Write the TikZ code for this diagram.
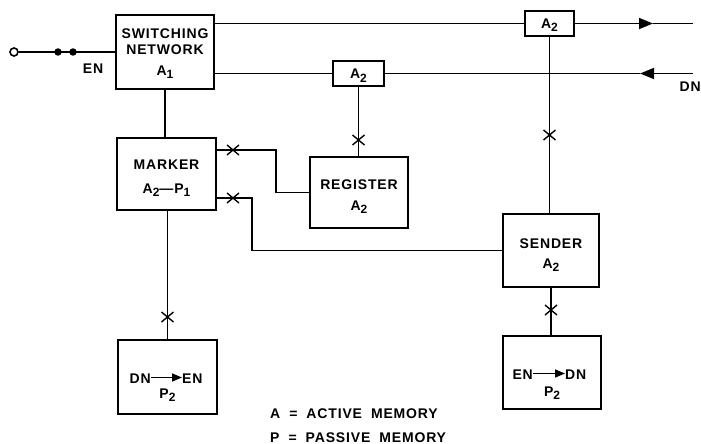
\documentclass[tikz,border=0pt]{standalone}
\usepackage{fontspec}
\setmainfont{Liberation Sans}[LetterSpace=6]
\usetikzlibrary{arrows.meta}
\newcommand\sbs[1]{\raisebox{-3.5pt}{\fontsize{12}{12}\selectfont #1}}
\tikzset{
  wire/.style={line width=1.8pt},
  box/.style={draw, line width=1.8pt, inner sep=0pt},
  lbl/.style={font=\bfseries\fontsize{14}{16}\selectfont, anchor=base, inner sep=0pt},
  xm/.pic={\draw[line width=1.4pt] (-6,-5)--(6,5) (-6,5)--(6,-5);},
  tipstyle/.style={wire, -{Triangle[length=14pt,width=11pt]}},
  intip/.style={line width=1.6pt, -{Triangle[length=10pt,width=8pt]}},
  dotn/.style={circle, fill, inner sep=0pt, minimum size=7.5pt},
}
\begin{document}
\begin{tikzpicture}[x=1pt,y=-1pt]
\useasboundingbox (0,0) rectangle (701,444);
% boxes
\node[box, minimum width=98pt, minimum height=74pt] (sw) at (165,52) {};
\node[box, minimum width=51pt, minimum height=25pt] (a2m) at (358.5,73.5) {};
\node[box, minimum width=49pt, minimum height=25pt] (a2t) at (549.5,23.5) {};
\node[box, minimum width=99pt, minimum height=72pt] (mk) at (166.5,174) {};
\node[box, minimum width=98pt, minimum height=71pt] (rg) at (359,192.5) {};
\node[box, minimum width=96pt, minimum height=73pt] (sd) at (551,250.5) {};
\node[box, minimum width=99pt, minimum height=74pt] (de) at (167.5,377) {};
\node[box, minimum width=98pt, minimum height=73pt] (ed) at (552,372.5) {};
% texts
\node[lbl] at (165,39) {SWITCHING};
\node[lbl] at (165,55) {NETWORK};
\node[lbl] at (165,75) {A\sbs{1}};
\node[lbl] at (358.5,78.5) {A\sbs{2}};
\node[lbl] at (549.5,28.5) {A\sbs{2}};
\node[lbl] at (166.5,169) {MARKER};
\node[lbl] at (166.5,193) {A\sbs{2}—P\sbs{1}};
\node[lbl] at (359,189) {REGISTER};
\node[lbl] at (359,210) {A\sbs{2}};
\node[lbl] at (551,248) {SENDER};
\node[lbl] at (551,268) {A\sbs{2}};
\node[lbl, anchor=base east] (de1) at (151,383) {DN};
\node[lbl, anchor=base west] (de2) at (182,383) {EN};
\node[lbl] at (167.5,398) {P\sbs{2}};
\node[lbl, anchor=base east] (ed1) at (533,379) {EN};
\node[lbl, anchor=base west] (ed2) at (565,379) {DN};
\node[lbl] at (552,396) {P\sbs{2}};
\node[lbl] at (93,74) {EN};
\node[lbl, anchor=base east] at (701,92) {DN};
\node[lbl, anchor=base west] at (270,418) {A\hspace{9pt}=\hspace{9pt}ACTIVE\hspace{9pt}MEMORY};
\node[lbl, anchor=base west] at (270,442) {P\hspace{9pt}=\hspace{9pt}PASSIVE\hspace{9pt}MEMORY};
% arrows inside boxes
\draw[intip] (de1.east |- 0,377.5) -- (de2.west |- 0,377.5);
\draw[intip] (ed1.east |- 0,373.5) -- (ed2.west |- 0,373.5);
% input
\node[circle, draw, line width=1.6pt, inner sep=0pt, minimum size=8pt] (in) at (14,52) {};
\draw[wire] (in.east) -- (sw.west);
\node[dotn] (d1) at (58,52) {};
\node[dotn] (d2) at (73,52) {};
% trunk lines
\coordinate (tipR) at (653,23.5);
\coordinate (outR) at (693,23.5);
\coordinate (tipL) at (640,73.5);
\coordinate (outL) at (693,73.5);
\draw[wire] (a2t.west -| sw.east) -- (a2t.west);
\draw[tipstyle] (a2t.east) -- (tipR);
\draw[wire] (tipR) -- (outR);
\draw[wire] (a2m.west -| sw.east) -- (a2m.west);
\draw[wire] (a2m.east) -- (tipL);
\draw[tipstyle] (outL) -- (tipL);
% verticals
\draw[wire] (sw.south) -- (sw.south |- mk.north);
\draw[wire] (a2m.south) -- (a2m.south |- rg.north);
\draw[wire] (a2t.south) -- (a2t.south |- sd.north);
\draw[wire] (mk.south -| de.north) -- (de.north);
\draw[wire] (sd.south) -- (sd.south |- ed.north);
% marker connections
\coordinate (c1) at (276,150);
\coordinate (c2) at (252,198);
\draw[wire] (c1 -| mk.east) -- (c1) |- (rg.west);
\draw[wire] (c2 -| mk.east) -- (c2) |- (sd.west);
% crosses
\pic at (233,150) {xm};
\pic at (233,198) {xm};
\pic at (358.5,140) {xm};
\pic at (549.5,135) {xm};
\pic at (167.5,317) {xm};
\pic at (551,310) {xm};
\end{tikzpicture}
\end{document}
